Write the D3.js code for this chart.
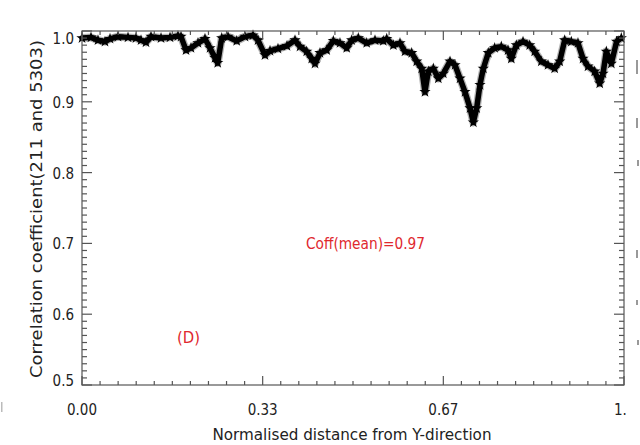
<!DOCTYPE html>
<html><head><meta charset="utf-8">
<script src="https://cdn.jsdelivr.net/npm/d3@7"></script>
<style>body{margin:0;background:#fff}svg{display:block}</style>
</head><body>
<svg id="c" width="640" height="445"></svg>
<script>
// Normalised distance (x) and correlation coefficient (y)
const distance = [0,0.0166,0.0295,0.0424,0.0517,0.0664,0.0849,0.0996,0.1089,0.1181,0.1273,0.1458,0.1624,0.1771,0.1827,0.1919,0.2011,0.2140,0.2269,0.2362,0.2454,0.2504,0.2578,0.2694,0.2854,0.3007,0.3155,0.3247,0.3376,0.3469,0.3616,0.3782,0.3930,0.4022,0.4146,0.4238,0.4299,0.4391,0.4515,0.4637,0.4760,0.4884,0.4976,0.5098,0.5253,0.5406,0.5559,0.5622,0.5744,0.5867,0.5959,0.6083,0.6175,0.6268,0.6328,0.6389,0.6482,0.6574,0.6666,0.6790,0.6882,0.6974,0.7066,0.7159,0.7220,0.7282,0.7343,0.7404,0.7496,0.7614,0.7736,0.7860,0.7921,0.8013,0.8137,0.8260,0.8352,0.8474,0.8598,0.8721,0.8814,0.8906,0.9028,0.9151,0.9244,0.9336,0.9459,0.9552,0.9613,0.9674,0.9766,0.9863,0.9950];
const coeff = [0.990,0.991,0.987,0.985,0.989,0.992,0.991,0.990,0.987,0.984,0.992,0.990,0.991,0.993,0.992,0.973,0.976,0.983,0.989,0.976,0.962,0.955,0.990,0.992,0.986,0.992,0.994,0.987,0.966,0.972,0.975,0.979,0.987,0.978,0.971,0.961,0.954,0.969,0.973,0.986,0.983,0.976,0.987,0.990,0.983,0.987,0.986,0.989,0.980,0.983,0.971,0.969,0.957,0.947,0.914,0.943,0.947,0.933,0.940,0.957,0.952,0.933,0.914,0.891,0.871,0.891,0.924,0.947,0.969,0.976,0.978,0.973,0.961,0.980,0.985,0.980,0.971,0.957,0.952,0.947,0.957,0.987,0.985,0.983,0.961,0.950,0.943,0.926,0.940,0.971,0.954,0.985,0.990];
const xTickValues = [0, 1/3, 2/3, 1];
const xTickLabels = ["0.00", "0.33", "0.67", "1."];
const yTickValues = [0.5, 0.6, 0.7, 0.8, 0.9, 1.0];
const yTickLabels = ["0.5", "0.6", "0.7", "0.8", "0.9", "1.0"];
const xTitle = "Normalised distance from Y-direction";
const yTitle = "Correlation coefficient(211 and 5303)";
const meanLabel = "Coff(mean)=0.97";
const panelLabel = "(D)";

const L = 82, R = 624, T = 31, B = 385;
const svg = d3.select("#c");
const x = d3.scaleLinear().domain([0, 1]).range([L, R]);
const y = d3.scaleLinear().domain([0.5, 1.0]).range([B, T]);
const axisCol = "#555";
const font = "'Liberation Sans Narrow','DejaVu Sans Condensed','Liberation Sans',sans-serif";

// data line drawn as a thick band of star symbols
const pts = distance.map((d, i) => [d, coeff[i]]);
const line = d3.line().x(d => x(d[0])).y(d => y(d[1]));
svg.append("path").attr("d", line(pts))
  .attr("fill", "none").attr("stroke", "#000").attr("stroke-opacity", 0.3).attr("stroke-width", 8)
  .attr("stroke-linejoin", "round");
svg.append("path").attr("d", line(pts))
  .attr("fill", "none").attr("stroke", "#000").attr("stroke-width", 5.5)
  .attr("stroke-linejoin", "round").attr("stroke-linecap", "round");
const star = d3.symbol().type(d3.symbolStar).size(40);
svg.append("g").selectAll("path").data(pts).join("path")
  .attr("transform", d => `translate(${x(d[0])},${y(d[1])})`)
  .attr("d", star).attr("fill", "#000");

// axes (IDL style: inward ticks on all four sides)
const xMinor = d3.range(0, 31).map(i => i / 30);
const yMinor = d3.range(0, 51).map(i => 0.5 + i / 100);
const g = svg.append("g").attr("stroke", axisCol).attr("stroke-width", 1.2);
g.append("rect").attr("x", L).attr("y", T).attr("width", R - L).attr("height", B - T).attr("fill", "none");
xMinor.forEach(v => {
  const major = xTickValues.some(t => Math.abs(t - v) < 1e-6);
  const len = major ? 9 : 4;
  g.append("line").attr("x1", x(v)).attr("x2", x(v)).attr("y1", B).attr("y2", B - len);
  g.append("line").attr("x1", x(v)).attr("x2", x(v)).attr("y1", T).attr("y2", T + len);
});
yMinor.forEach(v => {
  const major = yTickValues.some(t => Math.abs(t - v) < 1e-6);
  const len = major ? 10 : 5;
  g.append("line").attr("x1", L).attr("x2", L + len).attr("y1", y(v)).attr("y2", y(v));
  g.append("line").attr("x1", R).attr("x2", R - len).attr("y1", y(v)).attr("y2", y(v));
});

// tick labels
const tcol = "#222";
svg.append("g").selectAll("text").data(xTickValues).join("text")
  .attr("x", (d, i) => i === 3 ? x(d) - 10 : x(d)).attr("y", 415)
  .attr("text-anchor", (d, i) => i === 3 ? "start" : "middle")
  .attr("font-family", font).attr("font-size", 15).attr("fill", tcol)
  .text((d, i) => xTickLabels[i]);
svg.append("g").selectAll("text").data(yTickValues).join("text")
  .attr("x", 74).attr("y", d => d === 1.0 ? y(d) + 13 : (d === 0.5 ? y(d) + 1 : y(d) + 6))
  .attr("text-anchor", "end")
  .attr("font-family", font).attr("font-size", 15).attr("fill", tcol)
  .text((d, i) => yTickLabels[i]);

// titles
svg.append("text").attr("x", 352).attr("y", 440).attr("text-anchor", "middle")
  .attr("font-family", font).attr("font-size", 15).attr("fill", tcol)
  .attr("textLength", 279).attr("lengthAdjust", "spacingAndGlyphs").text(xTitle);
svg.append("text").attr("transform", "translate(42,209) rotate(-90)").attr("text-anchor", "middle")
  .attr("font-family", font).attr("font-size", 15).attr("fill", tcol)
  .attr("textLength", 338).attr("lengthAdjust", "spacingAndGlyphs").text(yTitle);

// annotations
svg.append("text").attr("x", 306).attr("y", 249)
  .attr("font-family", font).attr("font-size", 16).attr("fill", "#e0282e")
  .attr("textLength", 119).attr("lengthAdjust", "spacingAndGlyphs").text(meanLabel);
svg.append("text").attr("x", 177).attr("y", 343)
  .attr("font-family", font).attr("font-size", 16).attr("fill", "#e0282e")
  .attr("textLength", 23).attr("lengthAdjust", "spacingAndGlyphs").text(panelLabel);

// faint fragments of neighbouring panels at the image edges
const frag = svg.append("g").attr("fill", "#999");
[[636, 60, 14], [636, 118, 10], [637, 160, 6], [636, 250, 8], [636, 300, 5], [637, 340, 5]].forEach(r =>
  frag.append("rect").attr("x", r[0]).attr("y", r[1]).attr("width", 2).attr("height", r[2]));
svg.append("rect").attr("x", 1).attr("y", 402).attr("width", 1.5).attr("height", 10).attr("fill", "#bbb");
</script>
</body></html>
